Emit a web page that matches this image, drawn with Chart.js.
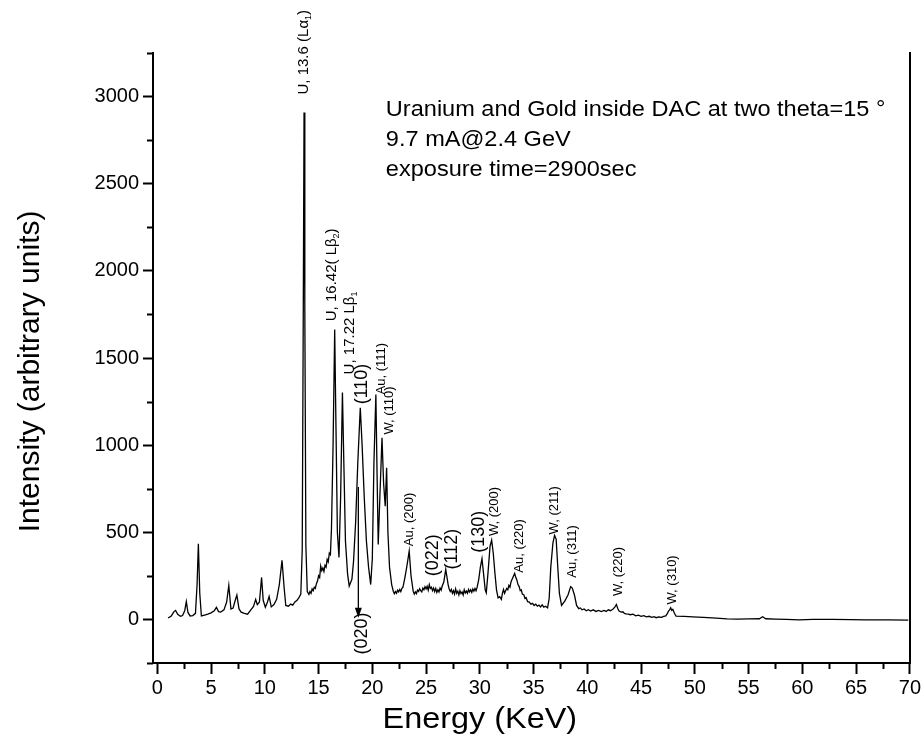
<!DOCTYPE html>
<html>
<head>
<meta charset="utf-8">
<script src="https://cdn.jsdelivr.net/npm/chart.js@4.4.0/dist/chart.umd.min.js"></script>
<style>
  html, body { margin: 0; padding: 0; background: #fff; }
</style>
</head>
<body>
<canvas id="myChart"></canvas>
<script>
// spectrum (energy in KeV, intensity in arbitrary units)
let energy = [
    1.00, 1.30, 1.55, 1.70, 1.90, 2.15, 2.35, 2.55, 2.70, 2.85,
    3.05, 3.30, 3.55, 3.70, 3.82, 3.95, 4.10, 4.40, 4.70, 5.00,
    5.30, 5.50, 5.70, 5.90, 6.20, 6.45, 6.65, 6.85, 7.05, 7.25,
    7.40, 7.60, 7.80, 8.10, 8.40, 8.70, 8.95, 9.15, 9.30, 9.50,
    9.70, 9.85, 10.05, 10.25, 10.40, 10.60, 10.85, 11.10, 11.35, 11.60,
    11.80, 11.95, 12.20, 12.40, 12.60, 12.80, 13.00, 13.20, 13.35, 13.48,
    13.58, 13.65, 13.72, 13.82, 13.95, 14.10, 14.20, 14.30, 14.40, 14.50,
    14.60, 14.70, 14.80, 14.90, 15.00, 15.10, 15.20, 15.30, 15.40, 15.50,
    15.60, 15.70, 15.80, 15.90, 16.00, 16.10, 16.20, 16.35, 16.50, 16.62,
    16.75, 16.90, 17.05, 17.22, 17.35, 17.50, 17.70, 17.85, 18.00, 18.10,
    18.25, 18.45, 18.65, 18.88, 19.05, 19.25, 19.45, 19.65, 19.85, 20.00,
    20.15, 20.33, 20.45, 20.55, 20.70, 20.90, 21.05, 21.20, 21.33, 21.45,
    21.60, 21.80, 21.95, 22.05, 22.15, 22.25, 22.35, 22.45, 22.55, 22.65,
    22.75, 22.85, 23.00, 23.20, 23.43, 23.60, 23.80, 23.90, 24.00, 24.10,
    24.20, 24.30, 24.40, 24.50, 24.60, 24.70, 24.80, 24.90, 25.00, 25.10,
    25.20, 25.30, 25.40, 25.50, 25.60, 25.70, 25.80, 25.90, 26.00, 26.10,
    26.20, 26.30, 26.40, 26.50, 26.65, 26.83, 26.95, 27.05, 27.15, 27.25,
    27.35, 27.45, 27.55, 27.65, 27.75, 27.85, 27.95, 28.05, 28.15, 28.25,
    28.35, 28.45, 28.55, 28.65, 28.75, 28.85, 28.95, 29.05, 29.15, 29.25,
    29.35, 29.45, 29.55, 29.65, 29.75, 29.90, 30.05, 30.20, 30.35, 30.50,
    30.60, 30.75, 30.95, 31.10, 31.25, 31.40, 31.55, 31.70, 31.85, 32.00,
    32.10, 32.20, 32.30, 32.40, 32.50, 32.60, 32.70, 32.80, 32.90, 33.00,
    33.24, 33.35, 33.45, 33.55, 33.65, 33.76, 33.86, 33.95, 34.10, 34.20,
    34.30, 34.45, 34.60, 34.75, 34.90, 35.05, 35.20, 35.35, 35.50, 35.65,
    35.80, 35.95, 36.10, 36.30, 36.45, 36.60, 36.80, 36.95, 37.10, 37.25,
    37.40, 37.60, 37.90, 38.20, 38.45, 38.60, 38.80, 39.00, 39.20, 39.35,
    39.50, 39.70, 39.90, 40.10, 40.30, 40.55, 40.80, 41.05, 41.30, 41.55,
    41.75, 41.95, 42.15, 42.40, 42.55, 42.70, 42.85, 42.95, 43.15, 43.30,
    43.45, 43.60, 43.80, 44.00, 44.25, 44.50, 44.75, 45.00, 45.25, 45.50,
    45.75, 46.00, 46.20, 46.40, 46.65, 46.90, 47.10, 47.30, 47.45, 47.55,
    47.65, 47.75, 47.85, 47.95, 48.10, 48.25, 49.00, 49.80, 50.80, 52.00,
    53.00, 54.00, 55.00, 56.00, 56.30, 56.60, 57.50, 58.50, 59.70, 61.00,
    62.80, 64.50, 65.90, 68.00, 69.85];
let intensity = [
    8, 20, 45, 52, 30, 18, 22, 50, 103, 40,
    20, 22, 35, 200, 434, 150, 20, 25, 30, 38,
    50, 69, 45, 42, 55, 100, 195, 60, 65, 110,
    140, 60, 42, 35, 30, 55, 75, 115, 85, 100,
    241, 110, 70, 100, 132, 72, 85, 115, 200, 339,
    180, 80, 76, 88, 82, 100, 110, 128, 145, 400,
    1800, 2909, 1800, 420, 160, 143, 160, 150, 175, 165,
    185, 178, 205, 220, 250, 240, 306, 280, 295, 275,
    310, 300, 344, 330, 380, 372, 520, 1000, 1664, 1100,
    500, 356, 700, 1302, 900, 450, 260, 191, 215, 230,
    330, 560, 900, 1215, 1000, 700, 450, 300, 200, 350,
    900, 1291, 800, 430, 700, 1042, 780, 650, 870, 500,
    300, 200, 162, 148, 160, 150, 168, 158, 172, 160,
    178, 185, 230, 300, 392, 250, 162, 145, 158, 148,
    168, 160, 176, 165, 158, 180, 170, 188, 175, 190,
    168, 200, 178, 185, 165, 180, 160, 178, 155, 170,
    158, 180, 168, 192, 215, 287, 240, 200, 175, 160,
    172, 150, 165, 145, 175, 150, 162, 140, 165, 148,
    158, 140, 170, 152, 162, 150, 172, 158, 170, 155,
    175, 162, 178, 165, 185, 230, 300, 348, 260, 170,
    153, 260, 420, 455, 380, 268, 170, 124, 130, 115,
    150, 172, 150, 165, 178, 170, 195, 185, 215, 230,
    264, 240, 225, 200, 190, 165, 170, 145, 140, 120,
    125, 102, 100, 88, 92, 80, 88, 76, 82, 72,
    84, 70, 76, 67, 120, 300, 440, 482, 460, 300,
    150, 80, 105, 140, 188, 180, 140, 80, 62, 66,
    55, 60, 50, 56, 48, 55, 46, 52, 45, 52,
    46, 55, 50, 60, 70, 86, 60, 48, 42, 44,
    34, 32, 30, 27, 30, 21, 25, 18, 22, 15,
    18, 12, 16, 10, 14, 12, 18, 20, 35, 48,
    55, 67, 52, 58, 35, 19, 17, 15, 12, 8,
    3, 2, 3, 4, 15, 4, 2, 0, -2, 0,
    0, -1, -2, -3, -4];

// axis ticks (minor ticks every half step, labels on the majors)
let xTicks = [];
for (let v = 0; v <= 70; v += 2.5) xTicks.push(v);
let yTicks = [];
for (let v = -250; v <= 3250; v += 250) yTicks.push(v);

// peak labels, written upwards, anchored at the start of the text
let labelText = ['U, 13.6 (L\u03b1', 'U, 16.42( L\u03b2', 'U, 17.22 L\u03b2', '(110)', 'Au, (111)', 'W, (110)', 'Au, (200)', '(022)', '(112)',
    '(130)', 'W, (200)', 'Au, (220)', 'W, (211)', 'Au, (311)', 'W, (220)', 'W, (310)', '(020)'];
let labelSub = ['1', '2', '1', '', '', '', '', '', '', '', '', '', '', '', '', '', ''];
let labelTail = [')', ')', '', '', '', '', '', '', '', '', '', '', '', '', '', '', ''];
let labelX = [13.65, 16.22, 17.92, 19.0, 20.86, 21.63, 23.49, 25.65, 27.46, 29.93, 31.38, 33.7, 36.95, 38.6, 42.93, 47.88, 19.0];
let labelY = [3012, 1711, 1406, 1234, 1291, 1061, 420, 248, 287, 383, 478, 268, 488, 239, 134, 86, -201];
let labelSize = [15, 15, 15, 18, 13, 13, 13, 18, 18, 18, 13, 13, 13, 13, 13, 13, 18];

// arrow pointing at (020)
let arrowX = 18.7;
let arrowFrom = 760;
let arrowTo = 10;

let infoLines = ['Uranium and Gold inside DAC at two theta=15 \u00b0', '9.7 mA@2.4 GeV', 'exposure time=2900sec'];
let infoX = 21.26;
let infoY = 2886;

let family = '"Liberation Sans", Arial, Helvetica, sans-serif';

function drawUpText(ctx, px, py, text, sub, tail, size) {
    ctx.save();
    ctx.translate(px, py);
    ctx.rotate(-Math.PI / 2);
    ctx.textAlign = 'left';
    ctx.textBaseline = 'middle';
    ctx.font = size + 'px ' + family;
    ctx.fillText(text, 0, 0);
    let w = ctx.measureText(text).width;
    if (sub) {
        ctx.font = Math.round(size * 0.62) + 'px ' + family;
        ctx.fillText(sub, w, size * 0.32);
        w += ctx.measureText(sub).width;
        ctx.font = size + 'px ' + family;
    }
    if (tail) ctx.fillText(tail, w, 0);
    ctx.restore();
}

const annotations = {
    id: 'annotations',
    afterDraw(chart) {
        const {ctx, chartArea} = chart;
        const x = chart.scales.x;
        const y = chart.scales.y;
        ctx.save();
        ctx.fillStyle = '#000';
        ctx.strokeStyle = '#000';

        // minor ticks
        ctx.lineWidth = 2;
        ctx.beginPath();
        xTicks.forEach(v => {
            if (v % 5 !== 0) {
                let px = Math.round(x.getPixelForValue(v)) + 0.5;
                ctx.moveTo(px, chartArea.bottom);
                ctx.lineTo(px, chartArea.bottom + 6);
            }
        });
        yTicks.forEach(v => {
            if (v % 500 !== 0) {
                let py = Math.round(y.getPixelForValue(v)) + 0.5;
                ctx.moveTo(chartArea.left, py);
                ctx.lineTo(chartArea.left - 6, py);
            }
        });
        ctx.stroke();

        // peak labels
        for (let i = 0; i < labelText.length; i++) {
            drawUpText(ctx, x.getPixelForValue(labelX[i]), y.getPixelForValue(labelY[i]),
                labelText[i], labelSub[i], labelTail[i], labelSize[i]);
        }

        // arrow
        let ax = x.getPixelForValue(arrowX);
        let ay1 = y.getPixelForValue(arrowFrom);
        let ay2 = y.getPixelForValue(arrowTo);
        ctx.lineWidth = 1.3;
        ctx.beginPath();
        ctx.moveTo(ax, ay1);
        ctx.lineTo(ax, ay2 - 8);
        ctx.stroke();
        ctx.beginPath();
        ctx.moveTo(ax - 3.5, ay2 - 10);
        ctx.lineTo(ax + 3.5, ay2 - 10);
        ctx.lineTo(ax, ay2);
        ctx.closePath();
        ctx.fill();

        // info text
        ctx.font = '22px ' + family;
        ctx.textAlign = 'left';
        ctx.textBaseline = 'alphabetic';
        let ix = x.getPixelForValue(infoX);
        let iy = y.getPixelForValue(infoY);
        infoLines.forEach((line, i) => {
            ctx.save();
            ctx.translate(ix, iy + i * 30);
            ctx.scale(1.07, 1);
            ctx.fillText(line, 0, 0);
            ctx.restore();
        });

        // axis titles
        ctx.font = '30px ' + family;
        ctx.textAlign = 'center';
        ctx.textBaseline = 'middle';
        ctx.save();
        ctx.translate(x.getPixelForValue(30), chartArea.bottom + 57);
        ctx.scale(1.08, 1);
        ctx.fillText('Energy (KeV)', 0, 0);
        ctx.restore();
        ctx.save();
        ctx.translate(chartArea.left - 122, y.getPixelForValue(1423));
        ctx.rotate(-Math.PI / 2);
        ctx.fillText('Intensity (arbitrary units)', 0, 0);
        ctx.restore();

        ctx.restore();
    }
};

let canvas = document.getElementById('myChart');
canvas.width = 923;
canvas.height = 744;
let ctx = canvas.getContext('2d');

let chart = new Chart(ctx, {
    type: 'line',
    data: {
        datasets: [{
            data: energy.map((e, i) => ({x: e, y: intensity[i]})),
            borderColor: '#000',
            borderWidth: 1.3,
            pointRadius: 0,
            tension: 0,
            fill: false
        }]
    },
    options: {
        responsive: false,
        animation: false,
        layout: {padding: {top: 53, right: 12, left: 0, bottom: 0}},
        plugins: {
            legend: {display: false},
            tooltip: {enabled: false}
        },
        scales: {
            x: {
                type: 'linear',
                min: -0.4,
                max: 70,
                afterBuildTicks: s => { s.ticks = xTicks.map(v => ({value: v})); },
                afterFit: s => { s.height = 81; },
                ticks: {
                    autoSkip: false,
                    maxRotation: 0,
                    padding: 2,
                    color: '#000',
                    font: {size: 20, family: family},
                    callback: v => (v % 5 === 0 ? v : '')
                },
                grid: {
                    drawOnChartArea: false,
                    tickLength: 11,
                    tickWidth: 2,
                    tickColor: c => (c.tick && c.tick.value % 5 === 0 ? '#000' : 'rgba(0,0,0,0)')
                },
                border: {display: true, color: '#000', width: 2}
            },
            y: {
                type: 'linear',
                min: -250,
                max: 3250,
                afterBuildTicks: s => { s.ticks = yTicks.map(v => ({value: v})); },
                afterFit: s => { s.width = 153; },
                ticks: {
                    autoSkip: false,
                    padding: 4,
                    color: '#000',
                    font: {size: 20, family: family},
                    callback: v => (v % 500 === 0 && v >= 0 && v <= 3000 ? v : '')
                },
                grid: {
                    drawOnChartArea: false,
                    tickLength: 10,
                    tickWidth: 2,
                    tickColor: c => (c.tick && c.tick.value % 500 === 0 ? '#000' : 'rgba(0,0,0,0)')
                },
                border: {display: true, color: '#000', width: 2}
            },
            y2: {
                type: 'linear',
                position: 'right',
                min: -250,
                max: 3250,
                afterFit: s => { s.width = 0; },
                ticks: {display: false},
                grid: {display: false},
                border: {display: true, color: '#000', width: 2}
            }
        }
    },
    plugins: [annotations]
});
</script>
</body>
</html>
